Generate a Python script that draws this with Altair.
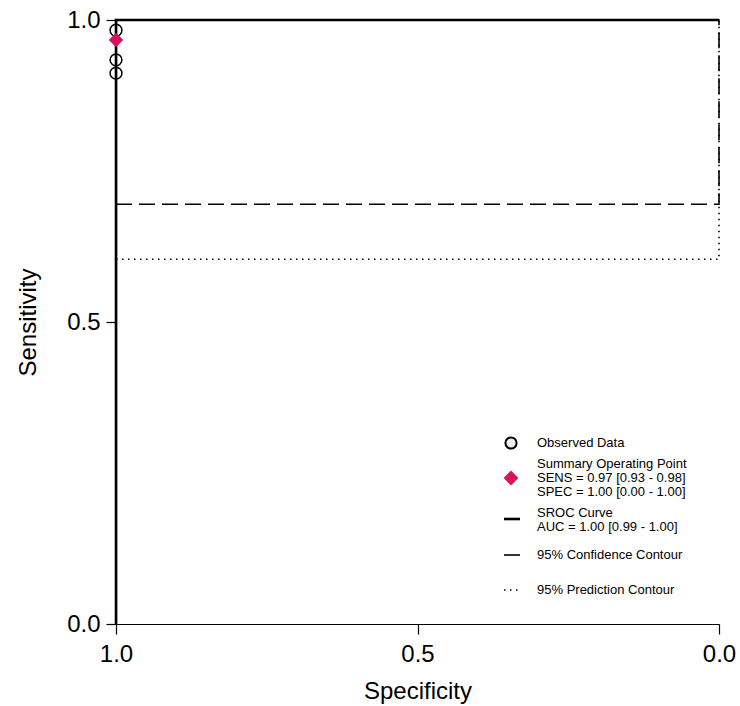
import altair as alt
import pandas as pd

# ---- data ----
obs_spec = [1.0, 1.0, 1.0]
obs_sens = [0.983, 0.934, 0.912]

summary_spec = [1.0]
summary_sens = [0.967]

sroc_spec = [1.0, 1.0, 0.0]
sroc_sens = [0.0, 1.0, 1.0]

conf_spec = [1.0, 0.0, 0.0, 1.0, 1.0]
conf_sens = [0.695, 0.695, 1.0, 1.0, 0.695]

pred_spec = [1.0, 0.0, 0.0, 1.0, 1.0]
pred_sens = [0.604, 0.604, 1.0, 1.0, 0.604]

tick_values = [0.0, 0.5, 1.0]

legend_obs = ["Observed Data"]
legend_summary = ["Summary Operating Point", "SENS = 0.97 [0.93 - 0.98]", "SPEC = 1.00 [0.00 - 1.00]"]
legend_sroc = ["SROC Curve", "AUC = 1.00 [0.99 - 1.00]"]
legend_conf = ["95% Confidence Contour"]
legend_pred = ["95% Prediction Contour"]

FONT = "Liberation Sans"
W, H = 603, 604

xscale = alt.Scale(domain=[0, 1], reverse=True, nice=False)
yscale = alt.Scale(domain=[0, 1], nice=False)

xaxis = alt.Axis(values=tick_values, format=".1f", title="Specificity", tickSize=10,
                 labelPadding=8, titlePadding=13, grid=False, labelFlush=False)
yaxis = alt.Axis(values=tick_values, format=".1f", title="Sensitivity", tickSize=10,
                 labelPadding=6, titlePadding=26, grid=False, labelFlush=False)


def path_df(xs, ys):
    return pd.DataFrame({"spec": xs, "sens": ys, "i": list(range(len(xs)))})


def path_layer(xs, ys, **mark):
    return alt.Chart(path_df(xs, ys)).mark_line(color="black", clip=False, **mark).encode(
        x=alt.X("spec:Q", scale=xscale, axis=xaxis),
        y=alt.Y("sens:Q", scale=yscale, axis=yaxis),
        order="i:Q",
    )


pred = path_layer(pred_spec, pred_sens, strokeWidth=1.6, strokeDash=[1.5, 4.5])
conf = path_layer(conf_spec, conf_sens, strokeWidth=1.6, strokeDash=[16, 7])
sroc = path_layer(sroc_spec, sroc_sens, strokeWidth=2.6)

obs = alt.Chart(pd.DataFrame({"spec": obs_spec, "sens": obs_sens})).mark_point(
    shape="circle", size=140, filled=False, color="black", strokeWidth=1.5, opacity=1, clip=False
).encode(x=alt.X("spec:Q", scale=xscale), y=alt.Y("sens:Q", scale=yscale))

summ = alt.Chart(pd.DataFrame({"spec": summary_spec, "sens": summary_sens})).mark_point(
    shape="diamond", size=210, filled=True, color="#D6145C", opacity=1, clip=False
).encode(x=alt.X("spec:Q", scale=xscale), y=alt.Y("sens:Q", scale=yscale))

# ---- manual legend ----
base = alt.Chart(pd.DataFrame({"k": [0]}))
TX = 421


def legend_text(lines, yc):
    return base.mark_text(align="left", baseline="middle", font=FONT, fontSize=13,
                          lineHeight=14, color="black").encode(
        x=alt.value(TX), y=alt.value(yc), text=alt.value(lines))


leg = [
    base.mark_point(shape="circle", size=125, filled=False, fill="#eeeeee", fillOpacity=1,
                    color="black", strokeWidth=2, opacity=1).encode(x=alt.value(395), y=alt.value(423)),
    legend_text(legend_obs, 423),
    base.mark_point(shape="diamond", size=220, filled=True, color="#D6145C", opacity=1).encode(
        x=alt.value(395), y=alt.value(458)),
    legend_text(legend_summary, 444),
    base.mark_rule(color="black", strokeWidth=2.6).encode(
        x=alt.value(388), x2=alt.value(404), y=alt.value(499)),
    legend_text(legend_sroc, 493),
    base.mark_rule(color="black", strokeWidth=1.6).encode(
        x=alt.value(388), x2=alt.value(404), y=alt.value(535)),
    legend_text(legend_conf, 535),
    base.mark_rule(color="black", strokeWidth=1.6, strokeDash=[1.5, 4.5]).encode(
        x=alt.value(388), x2=alt.value(404), y=alt.value(570)),
    legend_text(legend_pred, 570),
]

chart = alt.layer(pred, conf, sroc, obs, summ, *leg).properties(
    width=W, height=H,
    autosize=alt.AutoSizeParams(type="none"),
    padding={"left": 116, "top": 20, "right": 21, "bottom": 82},
    background="white",
).configure_view(stroke=None).configure_axis(
    labelFont=FONT, titleFont=FONT, labelFontSize=24, titleFontSize=24,
    titleFontWeight="normal", labelColor="black", titleColor="black",
    domainColor="black", tickColor="black", domainWidth=1.2, tickWidth=1.2,
)

chart.save("out.html", embed_options={"renderer": "svg", "actions": False})
